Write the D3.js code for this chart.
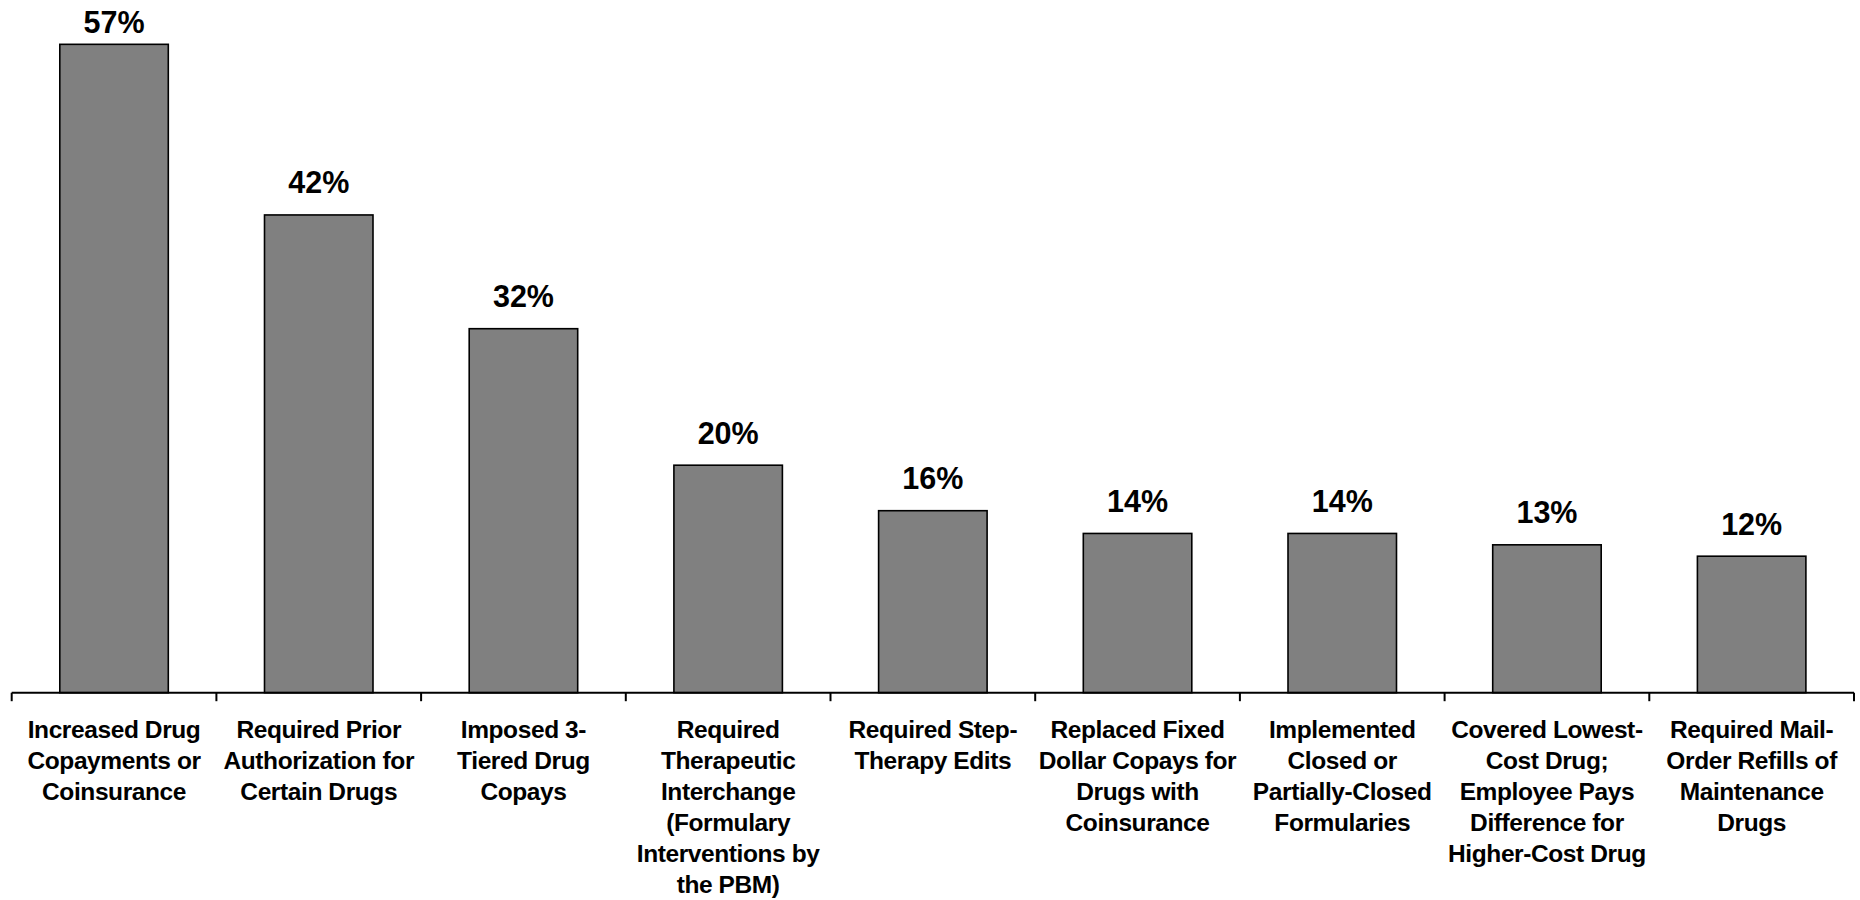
<!DOCTYPE html>
<html>
<head>
<meta charset="utf-8">
<script src="https://cdn.jsdelivr.net/npm/d3@7"></script>
<style>
  html, body { margin: 0; padding: 0; background: #fff; }
  svg { display: block; font-family: "Liberation Sans", Arial, sans-serif; }
</style>
</head>
<body>
<svg id="chart" width="1860" height="900"></svg>
<script>
const categories = [
  ["Increased Drug", "Copayments or", "Coinsurance"],
  ["Required Prior", "Authorization for", "Certain Drugs"],
  ["Imposed 3-", "Tiered Drug", "Copays"],
  ["Required", "Therapeutic", "Interchange", "(Formulary", "Interventions by", "the PBM)"],
  ["Required Step-", "Therapy Edits"],
  ["Replaced Fixed", "Dollar Copays for", "Drugs with", "Coinsurance"],
  ["Implemented", "Closed or", "Partially-Closed", "Formularies"],
  ["Covered Lowest-", "Cost Drug;", "Employee Pays", "Difference for", "Higher-Cost Drug"],
  ["Required Mail-", "Order Refills of", "Maintenance", "Drugs"]
];
const values = [57, 42, 32, 20, 16, 14, 14, 13, 12];
const valueLabels = ["57%", "42%", "32%", "20%", "16%", "14%", "14%", "13%", "12%"];

const svg = d3.select("#chart");
const left = 11.7, right = 1854, baseY = 692.7, topY = 10.2;

const x = d3.scaleBand()
  .domain(d3.range(values.length))
  .range([left, right])
  .paddingInner(0.47)
  .paddingOuter(0.235);

const y = d3.scaleLinear().domain([0, 60]).range([baseY, topY]);

// bars
svg.append("g").selectAll("rect")
  .data(values)
  .join("rect")
  .attr("x", (d, i) => x(i))
  .attr("y", d => y(d))
  .attr("width", x.bandwidth())
  .attr("height", d => y(0) - y(d))
  .attr("fill", "#808080")
  .attr("stroke", "#000")
  .attr("stroke-width", 1.6);

// value labels
svg.append("g").selectAll("text")
  .data(values)
  .join("text")
  .attr("x", (d, i) => x(i) + x.bandwidth() / 2)
  .attr("y", d => Math.max(y(d) - 21.5, 33.3))
  .attr("text-anchor", "middle")
  .attr("font-size", 30.5)
  .attr("font-weight", "bold")
  .attr("fill", "#000")
  .text((d, i) => valueLabels[i]);

// axis line
const axis = svg.append("g");
axis.append("line")
  .attr("x1", left).attr("x2", right)
  .attr("y1", baseY).attr("y2", baseY)
  .attr("stroke", "#000").attr("stroke-width", 2);

// ticks at category boundaries
const boundaries = d3.range(values.length + 1).map(i => x.range()[0] + i * x.step());
axis.selectAll("line.tick")
  .data(boundaries)
  .join("line")
  .attr("class", "tick")
  .attr("x1", d => d).attr("x2", d => d)
  .attr("y1", baseY).attr("y2", baseY + 8.5)
  .attr("stroke", "#000").attr("stroke-width", 2);

// category labels
const lab = svg.append("g").selectAll("text")
  .data(categories)
  .join("text")
  .attr("x", (d, i) => x(i) + x.bandwidth() / 2)
  .attr("y", 738.3)
  .attr("text-anchor", "middle")
  .attr("font-size", 24.5)
  .attr("font-weight", "bold")
  .attr("letter-spacing", "-0.4px")
  .attr("fill", "#000");

lab.selectAll("tspan")
  .data(d => d)
  .join("tspan")
  .attr("x", function() { return d3.select(this.parentNode).attr("x"); })
  .attr("dy", (d, j) => j === 0 ? 0 : 31)
  .text(d => d);
</script>
</body>
</html>
